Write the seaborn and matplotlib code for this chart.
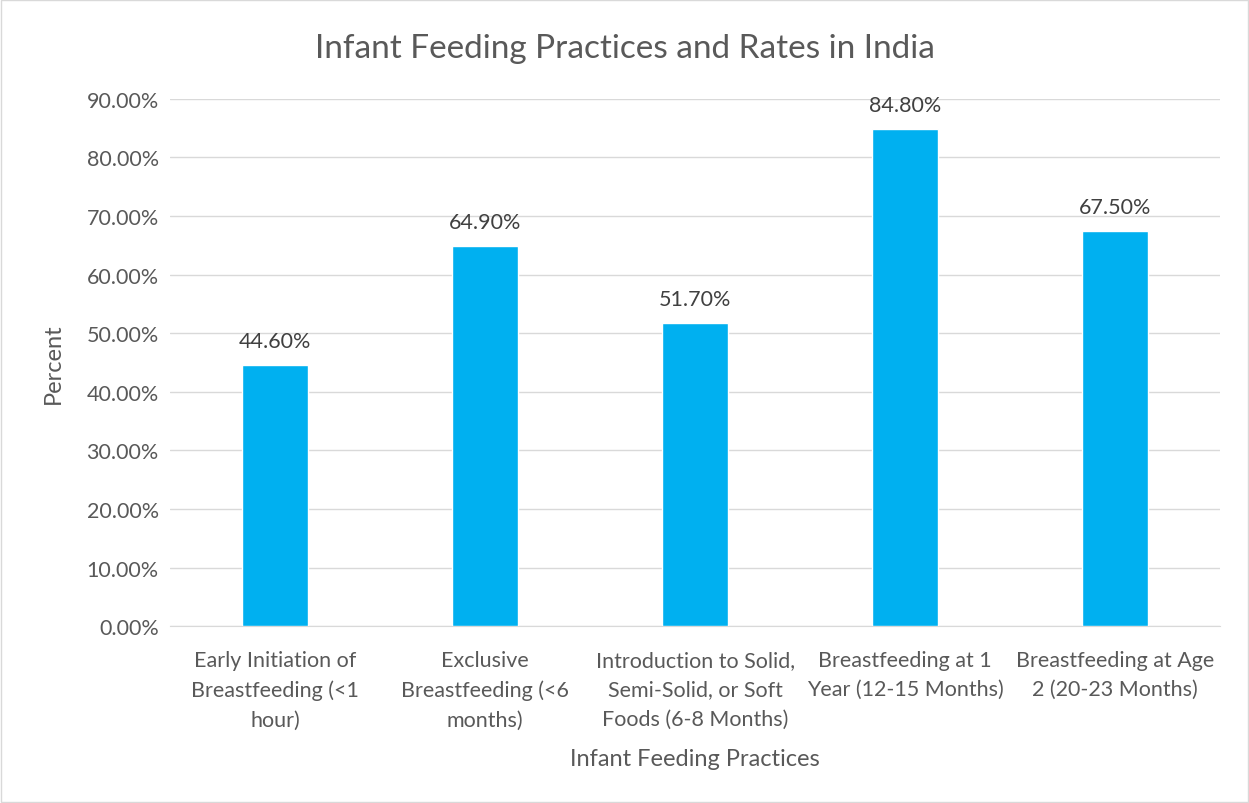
import numpy as np
import matplotlib.pyplot as plt
import seaborn as sns
from matplotlib.patches import Rectangle

categories = [
    "Early Initiation of\nBreastfeeding (<1\nhour)",
    "Exclusive\nBreastfeeding (<6\nmonths)",
    "Introduction to Solid,\nSemi-Solid, or Soft\nFoods (6-8 Months)",
    "Breastfeeding at 1\nYear (12-15 Months)",
    "Breastfeeding at Age\n2 (20-23 Months)",
]
rates = [0.446, 0.649, 0.517, 0.848, 0.675]
y_ticks = [0.0, 0.1, 0.2, 0.3, 0.4, 0.5, 0.6, 0.7, 0.8, 0.9]

sns.set_style("white")
plt.rcParams['font.family'] = ['Lato', 'DejaVu Sans']
txt = '#595959'

fig = plt.figure(figsize=(12.49, 8.04), dpi=100)
ax = fig.add_axes([0.136, 0.22, 0.841, 0.656])

sns.barplot(x=categories, y=rates, color='#00B0F0', width=0.314, saturation=1, ax=ax, zorder=3)
ax.bar_label(ax.containers[0], labels=[f"{v*100:.2f}%" for v in rates], padding=10, fontsize=15.5, color='#404040')

ax.set_ylim(0, 0.9)
ax.set_yticks(y_ticks)
ax.set_yticklabels([f"{t*100:.2f}%" for t in y_ticks], fontsize=15.5, color=txt)
ax.set_xticks(range(len(categories)))
ax.set_xticklabels(categories, fontsize=15.5, color=txt, linespacing=1.6)
ax.tick_params(axis='x', length=0, pad=17)
ax.tick_params(axis='y', length=0, pad=8)
ax.yaxis.grid(True, color='#D9D9D9', linewidth=1, zorder=0)
for s in ['top', 'right', 'left']:
    ax.spines[s].set_visible(False)
ax.spines['bottom'].set_color('#D9D9D9')

ax.set_xlabel("Infant Feeding Practices", fontsize=17, color=txt, labelpad=13)
ax.set_ylabel("Percent", fontsize=17, color=txt, labelpad=16)
fig.suptitle("Infant Feeding Practices and Rates in India", fontsize=24, color=txt, y=0.958)

fig.patches.append(Rectangle((0.001, 0.001), 0.998, 0.998, transform=fig.transFigure,
                             fill=False, edgecolor='#D9D9D9', linewidth=1))

fig.savefig("out.png", dpi=100)
